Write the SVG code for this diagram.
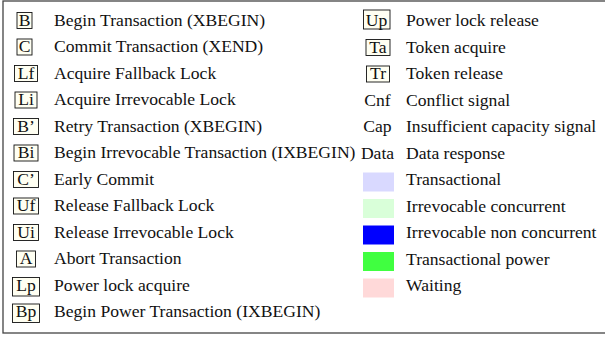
<svg xmlns="http://www.w3.org/2000/svg" width="605" height="337" viewBox="0 0 605 337">
<style>
text{font-family:"Liberation Serif","Times New Roman",serif;font-size:17.6px;fill:#111}
.k{fill:#fffff2;stroke:#111;stroke-width:0.9}
.c{text-anchor:middle}
</style>
<rect x="3" y="1" width="606" height="332" fill="#fff" stroke="#444" stroke-width="1.3"/>
<g id="left">
<g id="B"><rect class="k" x="17" y="12.5" width="15" height="16"/><text class="c" x="24.5" y="25.5">B</text><text x="54" y="25.5">Begin Transaction (XBEGIN)</text></g>
<g id="C"><rect class="k" x="17" y="39" width="15" height="16"/><text class="c" x="24.5" y="52">C</text><text x="54" y="52">Commit Transaction (XEND)</text></g>
<g id="Lf"><rect class="k" x="14.5" y="65.5" width="23" height="16"/><text class="c" x="26" y="78.5">Lf</text><text x="54" y="78.5">Acquire Fallback Lock</text></g>
<g id="Li"><rect class="k" x="15" y="92" width="22" height="16"/><text class="c" x="26" y="105">Li</text><text x="54" y="105">Acquire Irrevocable Lock</text></g>
<g id="Bp1"><rect class="k" x="13.5" y="118.5" width="25" height="16"/><text class="c" x="26" y="131.5">B’</text><text x="54" y="131.5">Retry Transaction (XBEGIN)</text></g>
<g id="Bi"><rect class="k" x="14" y="145" width="24" height="16"/><text class="c" x="26" y="158">Bi</text><text x="54" y="158">Begin Irrevocable Transaction (IXBEGIN)</text></g>
<g id="C1"><rect class="k" x="13.5" y="171.5" width="25" height="16"/><text class="c" x="26" y="184.5">C’</text><text x="54" y="184.5">Early Commit</text></g>
<g id="Uf"><rect class="k" x="13.5" y="198" width="25" height="16"/><text class="c" x="26" y="211">Uf</text><text x="54" y="211">Release Fallback Lock</text></g>
<g id="Ui"><rect class="k" x="13.5" y="224.5" width="25" height="16"/><text class="c" x="26" y="237.5">Ui</text><text x="54" y="237.5">Release Irrevocable Lock</text></g>
<g id="A"><rect class="k" x="16.5" y="251" width="19" height="16"/><text class="c" x="26" y="264">A</text><text x="54" y="264">Abort Transaction</text></g>
<g id="Lp"><rect class="k" x="12.5" y="277.5" width="27" height="18.5"/><text class="c" x="26" y="290.5">Lp</text><text x="54" y="290.5">Power lock acquire</text></g>
<g id="Bp"><rect class="k" x="12.5" y="304" width="27" height="18.5"/><text class="c" x="26" y="317">Bp</text><text x="54" y="317">Begin Power Transaction (IXBEGIN)</text></g>
</g>
<g id="right">
<g id="Up"><rect class="k" x="363.5" y="10" width="26.5" height="19"/><text class="c" x="376.5" y="26">Up</text><text x="406" y="26">Power lock release</text></g>
<g id="Ta"><rect class="k" x="366" y="39.5" width="24" height="16"/><text class="c" x="378" y="52.5">Ta</text><text x="406" y="52.5">Token acquire</text></g>
<g id="Tr"><rect class="k" x="366.5" y="66" width="23" height="16"/><text class="c" x="378" y="79">Tr</text><text x="406" y="79">Token release</text></g>
<g id="Cnf"><text class="c" x="377.5" y="105.5">Cnf</text><text x="406" y="105.5">Conflict signal</text></g>
<g id="Cap"><text class="c" x="377.5" y="132">Cap</text><text x="406" y="132">Insufficient capacity signal</text></g>
<g id="Data"><text class="c" x="377.5" y="158.5">Data</text><text x="406" y="158.5">Data response</text></g>
<g id="Tx"><rect x="363" y="172.5" width="31" height="19" fill="#d9d9ff"/><text x="406" y="185">Transactional</text></g>
<g id="IrrC"><rect x="363" y="199" width="31" height="19" fill="#d9ffd9"/><text x="406" y="211.5">Irrevocable concurrent</text></g>
<g id="IrrNC"><rect x="363" y="225.5" width="31" height="19" fill="#0000ff"/><text x="406" y="238">Irrevocable non concurrent</text></g>
<g id="TxP"><rect x="363" y="252" width="31" height="19" fill="#40ff40"/><text x="406" y="264.5">Transactional power</text></g>
<g id="Wait"><rect x="363" y="278.5" width="31" height="19" fill="#ffd9d9"/><text x="406" y="291">Waiting</text></g>
</g>
<g id="connectors"/>
</svg>
